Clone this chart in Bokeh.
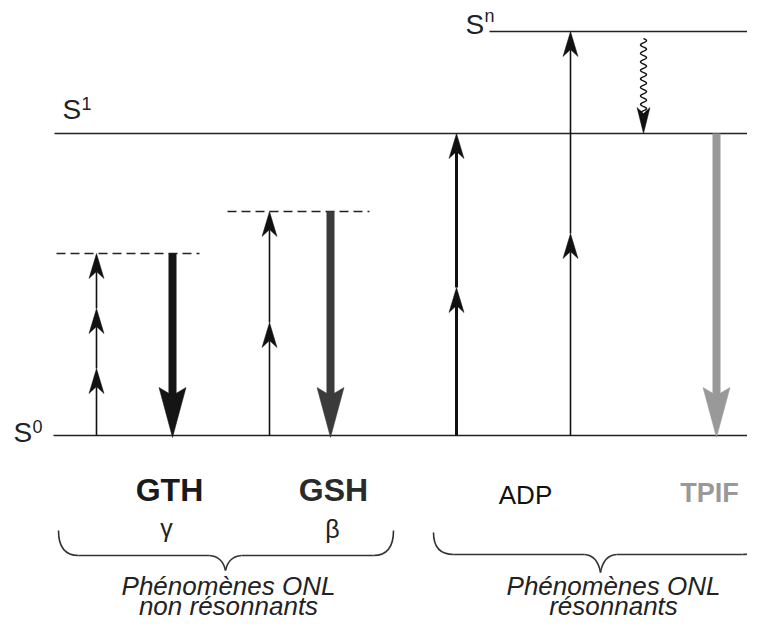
import numpy as np
from bokeh.plotting import figure
from bokeh.models import Range1d
from bokeh.core.properties import value
from bokeh.embed import file_html
from bokeh.resources import INLINE

# ---------------- data (reference pixel coordinates) ----------------
# electronic levels
level_sup = ["0", "1", "n"]
level_y = [435, 133, 31]
level_x0 = [53, 54, 489]
level_x1 = [760, 760, 760]
level_label_x = [13, 62, 465]
level_label_y = [443, 120, 35]
level_sup_raise = [10, 10, 12]

# virtual levels (dashed)
virt_y = [253, 211]
virt_x0 = [56, 227]
virt_x1 = [199, 369]

# absorbed photons (upward arrows)
abs_x = [96, 96, 96, 269, 269, 456, 456, 570, 570]
abs_y0 = [435, 368, 308, 435, 322, 435, 287, 435, 233]
abs_y1 = [368, 308, 253, 322, 211, 287, 133, 233, 31]
abs_w = [1.6, 1.6, 1.6, 1.6, 1.6, 3.0, 3.0, 1.6, 1.6]

# emitted photons (thick downward arrows)
em_x = [172, 330, 716]
em_y0 = [253, 211, 133]
em_y1 = [435, 435, 435]
em_color = ["#151515", "#3b3b3b", "#999999"]

# non radiative relaxation (wavy arrow)
relax_x = 643
relax_y0 = 38
relax_y1 = 133

# process labels
proc_names = ["GTH", "GSH", "ADP", "TPIF"]
proc_x = [169, 333, 525, 709]
proc_y = [502, 502, 505, 503]
proc_size = [32, 32, 26, 27]
proc_style = ["bold", "bold", "normal", "bold"]
proc_color = ["#1a1a1a", "#2a2a2a", "#111111", "#999999"]

greek = ["γ", "β"]
greek_x = [166, 332]
greek_y = [537, 538]

# groups (braces + captions)
group_lines = [["Phénomènes ONL", "non résonnants"], ["Phénomènes ONL", "résonnants"]]
group_x0 = [58, 433]
group_x1 = [393, 762]
group_tip = [225, 600]
group_top = [530, 532]
group_mid = [555, 554]
group_bot = [570, 572]
group_text_x = [228, 613]
group_text_y = [[596, 616], [596, 616]]

# ---------------- figure ----------------
W, H = 747, 623
p = figure(width=W, height=H, x_range=Range1d(0, W), y_range=Range1d(H, 0),
           output_backend="svg", toolbar_location=None, min_border=0,
           x_axis_type=None, y_axis_type=None)
p.outline_line_color = None
p.background_fill_color = "white"
p.border_fill_color = "white"

LINE = "#222222"
K = 0.4  # baseline correction of the svg text layout


def txt(x, y, s, size, font="Liberation Sans", style="normal", color="#222222", align="left"):
    p.text(x=[x], y=[y - K * size], text=[s], text_font=value(font), text_font_size=f"{size}px",
           text_font_style=style, text_color=color, text_align=align, text_baseline="alphabetic")


# levels
p.segment(x0=level_x0, x1=level_x1, y0=level_y, y1=level_y, line_color=LINE, line_width=1.6)
for sup, lx, ly, rz in zip(level_sup, level_label_x, level_label_y, level_sup_raise):
    txt(lx, ly, "S", 28)
    txt(lx + 19, ly - rz, sup, 18)

# virtual levels
p.segment(x0=virt_x0, x1=virt_x1, y0=virt_y, y1=virt_y, line_color=LINE, line_width=1.6,
          line_dash="9 5")


def head(x, ytip, direction, L, hw, notch):
    # direction: +1 arrow points to larger y (downwards on screen), -1 upwards
    yb = ytip - direction * L
    yn = ytip - direction * (L - notch)
    return [x, x - hw, x, x + hw], [ytip, yb, yn, yb], yn


# absorbed photons
hx, hy = [], []
for x, y0, y1, w in zip(abs_x, abs_y0, abs_y1, abs_w):
    d = 1 if y1 > y0 else -1
    xs, ys, yn = head(x, y1, d, 25, 7.5, 7)
    hx.append(xs)
    hy.append(ys)
    p.segment(x0=[x], x1=[x], y0=[y0], y1=[yn], line_color="#111111", line_width=w)
p.patches(xs=hx, ys=hy, fill_color="#111111", line_color="#111111", line_width=0.5)

# emitted photons
for x, y0, y1, c in zip(em_x, em_y0, em_y1, em_color):
    d = 1 if y1 > y0 else -1
    xs, ys, yn = head(x, y1 + 2, d, 50, 13.5, 8)
    p.segment(x0=[x], x1=[x], y0=[y0], y1=[yn + 1], line_color=c, line_width=8, line_cap="butt")
    p.patch(x=xs, y=ys, fill_color=c, line_color=c, line_width=0.5)

# relaxation wavy arrow
xs, ys, yn = head(relax_x, relax_y1, 1, 26, 6.5, 6)
wy = np.linspace(relax_y0, yn, 200)
wx = relax_x + 3.0 * np.sin(2 * np.pi * (wy - relax_y0) / 8.5)
p.line(x=wx, y=wy, line_color="#111111", line_width=1.4)
p.patch(x=xs, y=ys, fill_color="#111111", line_color="#111111", line_width=0.5)

# process labels
for t, x, y, s, st, c in zip(proc_names, proc_x, proc_y, proc_size, proc_style, proc_color):
    txt(x, y, t, s, style=st, color=c, align="center")
for t, x, y in zip(greek, greek_x, greek_y):
    txt(x, y, t, 25, align="center")

# braces and captions
for lines, x0, x1, xc, yt, ym, yb, tx, tys in zip(group_lines, group_x0, group_x1, group_tip,
                                                  group_top, group_mid, group_bot,
                                                  group_text_x, group_text_y):
    r, t = 20, 16
    p.quadratic(x0=[x0, xc - t, xc, x1 - r], y0=[yt, ym, yb, ym],
                x1=[x0 + r, xc, xc + t, x1], y1=[ym, yb, ym, yt],
                cx=[x0, xc - 3, xc + 3, x1], cy=[ym, ym + 1, ym + 1, ym],
                line_color="#333333", line_width=1.6)
    p.segment(x0=[x0 + r, xc + t], x1=[xc - t, x1 - r], y0=[ym, ym], y1=[ym, ym],
              line_color="#333333", line_width=1.6)
    for line, ty in zip(lines, tys):
        txt(tx, ty, line, 26, style="italic", align="center")

open("out.html", "w").write(file_html(p, INLINE))
